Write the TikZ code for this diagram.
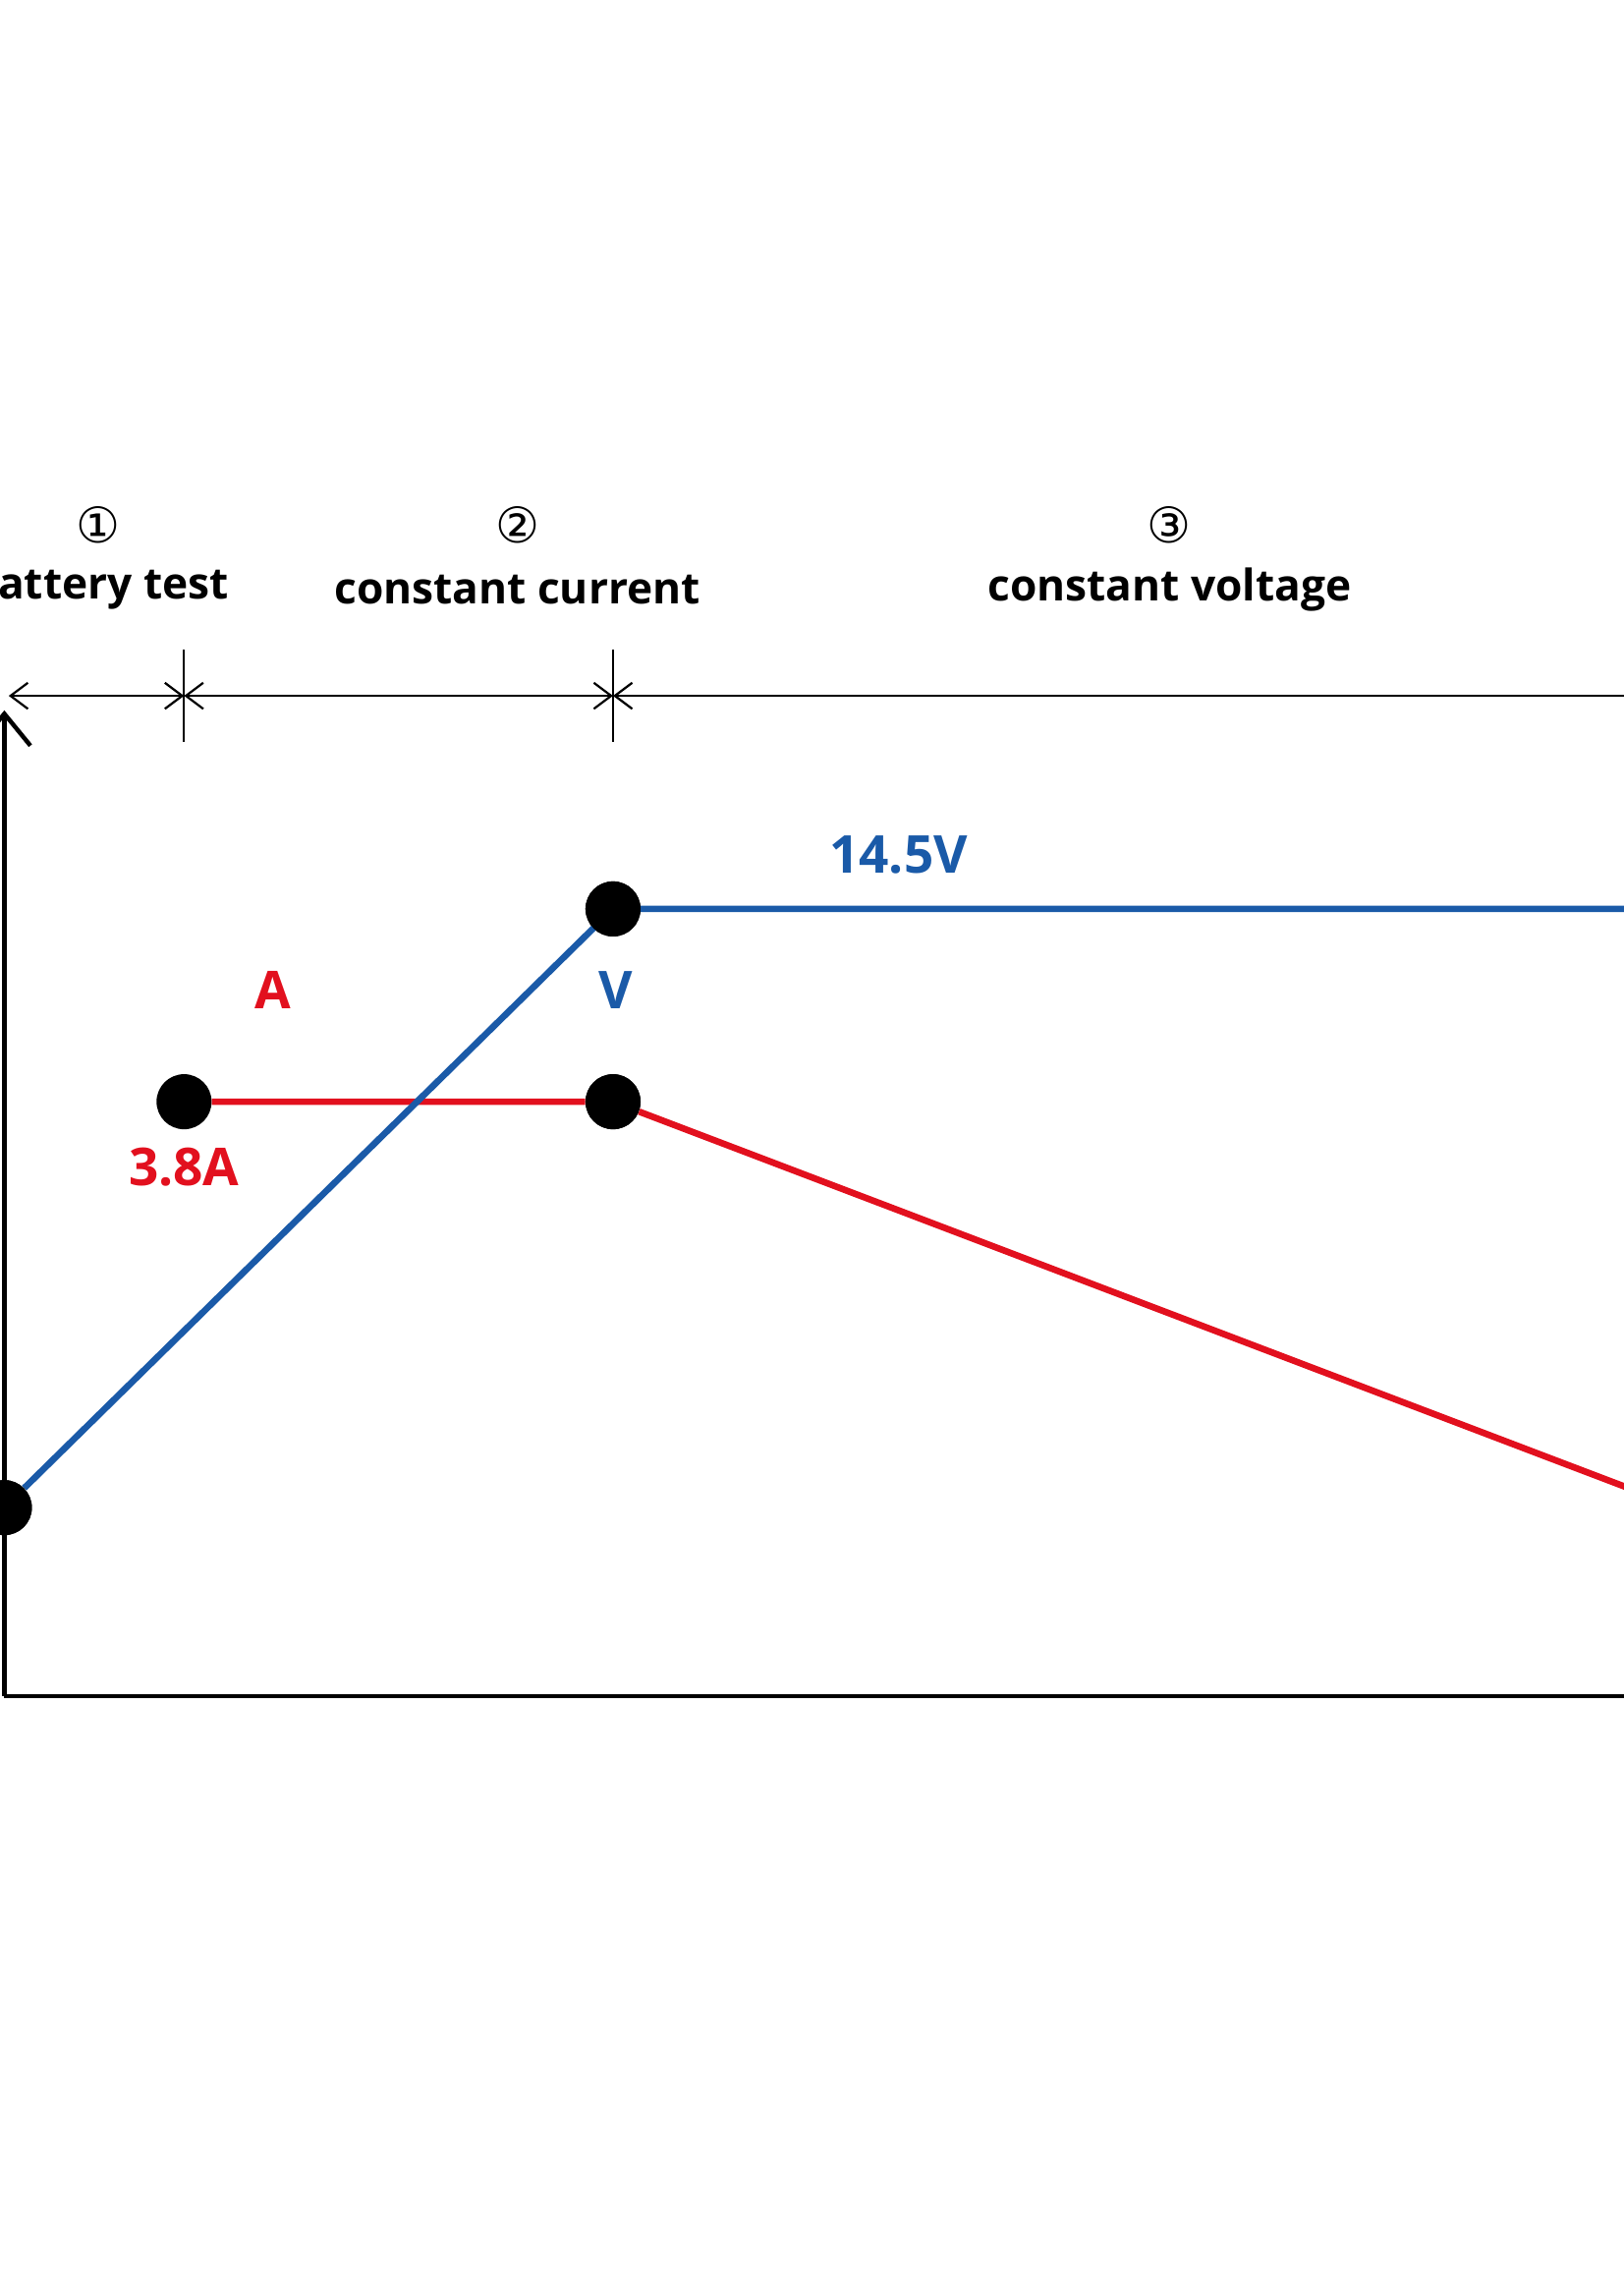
\documentclass[tikz,border=0pt]{standalone}
\usepackage{fontspec}
\setmainfont{Open Sans}
\newfontfamily\symf{DejaVu Sans}
\usetikzlibrary{arrows.meta}
\definecolor{cblue}{HTML}{1A5AA8}
\definecolor{cred}{HTML}{E2101E}
\begin{document}
\begin{tikzpicture}[x=1pt,y=-1pt,
  dot/.style={circle,fill=black,minimum size=38pt,inner sep=0pt},
  hdr/.style={font=\fontsize{30}{30}\selectfont\bfseries,inner sep=0pt},
  num/.style={font=\fontsize{34}{34}\selectfont\symf,inner sep=0pt},
  lab/.style={font=\fontsize{36}{36}\selectfont\bfseries,inner sep=0pt},
  dim/.style={line width=1.5pt,{Straight Barb[length=12pt,width=18pt]}-{Straight Barb[length=12pt,width=18pt]}},
  curve/.style={line width=4.5pt}]
\useasboundingbox (0,0) rectangle (1120,1568);
% header
\node[num] (n1) at (68,362) {①};
\node[num] (n2) at (357,362) {②};
\node[num] (n3) at (807,362) {③};
\node[hdr,anchor=east] (h1) at (158,407) {attery test};
\node[hdr] (h2) at (357,407) {constant current};
\node[hdr] (h3) at (807,407) {constant voltage};
% dimension line
\coordinate (d0) at (6,480);
\coordinate (d1) at (127,480);
\coordinate (d2) at (423,480);
\coordinate (d3) at (1125,480);
\draw[dim] (d0) -- (d1);
\draw[dim] (d1) -- (d2);
\draw[line width=1.5pt,{Straight Barb[length=12pt,width=18pt]}-] (d2) -- (d3);
\draw[line width=1.5pt] (127,448) -- (127,512);
\draw[line width=1.5pt] (423,448) -- (423,512);
% axes
\coordinate (o) at (3,1170);
\coordinate (yt) at (3,490);
\coordinate (xr) at (1125,1170);
\draw[line width=3pt,-{Straight Barb[length=22pt,width=36pt]}] (o) -- (yt);
\draw[line width=3pt] (o) -- (xr);
% nodes
\node[dot] (b0) at (3,1040) {};
\node[dot] (b1) at (423,627) {};
\node[dot] (r0) at (127,760) {};
\node[dot] (r1) at (423,760) {};
\coordinate (be) at (1125,627);
\coordinate (re) at (1125,1027);
\draw[curve,cred] (r0) -- (r1) -- (re);
\draw[curve,cblue] (b0) -- (b1.center) -- (be);
\node[dot] at (b1) {};
\node[dot] at (b0) {};
\node[dot] at (r1) {};
% labels
\node[lab,text=cblue] (l1) at (620,590) {14.5V};
\node[lab,text=cblue] (l2) at (425,683) {V};
\node[lab,text=cred] (l3) at (188,683) {A};
\node[lab,text=cred] (l4) at (127,805) {3.8A};
\end{tikzpicture}
\end{document}
